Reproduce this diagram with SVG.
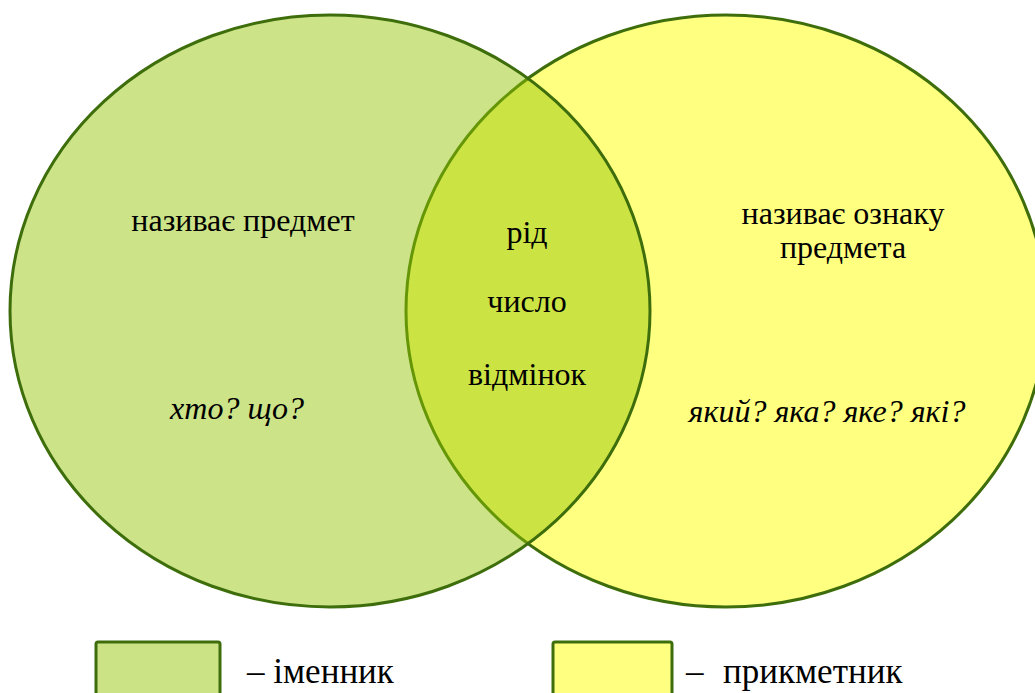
<svg xmlns="http://www.w3.org/2000/svg" width="1035" height="693" viewBox="0 0 1035 693">
  <style>
    .ring { stroke: #3E6E0C; stroke-width: 3; }
    .adj { fill: #FFFF80; }
    .noun { fill: rgb(146,196,0); fill-opacity: 0.47; }
    .lbl { font-family: "Liberation Serif", "Times New Roman", serif; font-size: 32px; fill: #000; text-anchor: middle; }
    .q { font-style: italic; }
    .key { font-family: "Liberation Serif", "Times New Roman", serif; font-size: 35px; fill: #000; }
  </style>
  <rect width="1035" height="693" fill="#FFFFFF"/>

  <!-- adjective set (drawn first, underneath) -->
  <g id="adjective">
    <ellipse class="ring adj" cx="726" cy="311" rx="320" ry="296"/>
  </g>

  <!-- noun set, translucent so the overlap tints darker -->
  <g id="noun">
    <ellipse class="ring noun" cx="330" cy="311" rx="320" ry="296"/>
  </g>

  <g id="noun-text">
    <text class="lbl" x="243" y="231">називає предмет</text>
    <text class="lbl q" x="237" y="419">хто? що?</text>
  </g>

  <g id="common-text">
    <text class="lbl" x="527" y="243">рід</text>
    <text class="lbl" x="527" y="312">число</text>
    <text class="lbl" x="527" y="385">відмінок</text>
  </g>

  <g id="adjective-text">
    <text class="lbl" x="843" y="224">називає ознаку</text>
    <text class="lbl" x="843" y="258">предмета</text>
    <text class="lbl q" x="827" y="422">який? яка? яке? які?</text>
  </g>

  <!-- legend -->
  <g id="legend-noun">
    <rect class="ring" x="96" y="642" width="124" height="60" rx="2" fill="#CCE385"/>
    <text class="key" x="247" y="683">– іменник</text>
  </g>
  <g id="legend-adjective">
    <rect class="ring" x="553" y="642" width="119" height="60" rx="2" fill="#FFFF80"/>
    <text class="key" y="683"><tspan x="686">–</tspan><tspan x="723">прикметник</tspan></text>
  </g>

  <g id="connectors"/>
</svg>
